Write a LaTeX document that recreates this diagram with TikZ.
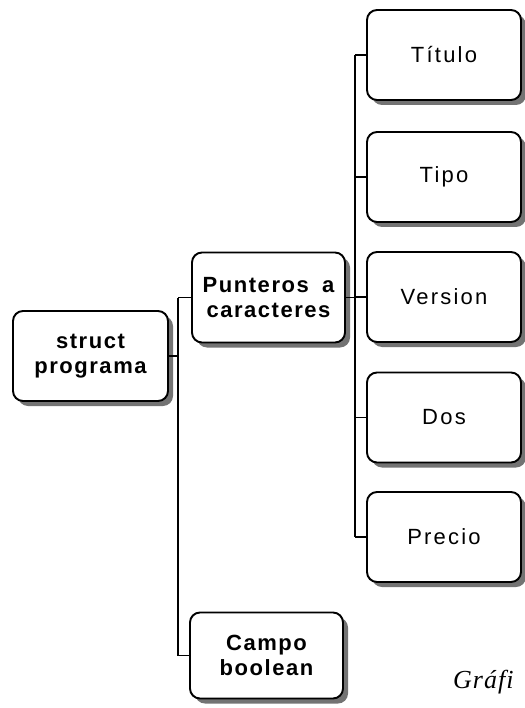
\documentclass[tikz,border=0pt]{standalone}
\usepackage{fontspec}
\setmainfont{Liberation Sans}
\newfontfamily\boxbold[LetterSpace=7]{Liberation Sans Bold}
\newfontfamily\boxreg[LetterSpace=10]{Liberation Sans}
\newfontfamily\capfont[LetterSpace=4]{Liberation Serif}
\usetikzlibrary{shadows}
\begin{document}
\begin{tikzpicture}[x=1pt,y=-1pt,
  boxbase/.style={draw, line width=1.9pt, rounded corners=10pt, fill=white,
    inner sep=0pt, align=center,
    drop shadow={shadow xshift=5pt, shadow yshift=-5pt, fill=black!55, opacity=1}},
  leftbox/.style={boxbase, minimum width=153pt, minimum height=90pt,
    font=\boxbold\fontsize{22}{25.5}\selectfont},
  rightbox/.style={boxbase, minimum width=154pt, minimum height=90pt,
    font=\boxreg\fontsize{22}{25}\selectfont},
  conn/.style={line width=1.8pt}
]
\useasboundingbox (0,0) rectangle (524,708);
\node[leftbox, minimum width=155pt] (sp) at (90.5,356) {struct\\programa};
\node[leftbox] (pc) at (268.5,297.5) {Punteros\hspace{0.6em}a\\caracteres};
\node[leftbox, minimum height=86pt] (cb) at (266.5,655.5) {Campo\\boolean};
\node[rightbox] (ti) at (444,55) {Título};
\node[rightbox] (tp) at (444,177) {Tipo};
\node[rightbox] (ve) at (444,297) {Version};
\node[rightbox] (do) at (444,417.5) {Dos};
\node[rightbox] (pr) at (444,537) {Precio};
\node[anchor=base west, inner sep=0pt, font=\capfont\itshape\fontsize{26}{30}\selectfont] (cap) at (453,688) {Gráfi};
% left tree
\coordinate (ls) at (178,0);
\draw[conn] (sp.east) -- (sp.east -| ls);
\draw[conn] (pc.west -| ls) -- (cb.west -| ls);
\draw[conn] (pc.west -| ls) -- (pc.west);
\draw[conn] (cb.west -| ls) -- (cb.west);
% right tree
\coordinate (rs) at (355,0);
\draw[conn] (ti.west -| rs) -- (pr.west -| rs);
\draw[conn] (pc.east) -- (pc.east -| rs);
\foreach \n in {ti,tp,ve,do,pr} \draw[conn] (\n.west -| rs) -- (\n.west);
\end{tikzpicture}
\end{document}
